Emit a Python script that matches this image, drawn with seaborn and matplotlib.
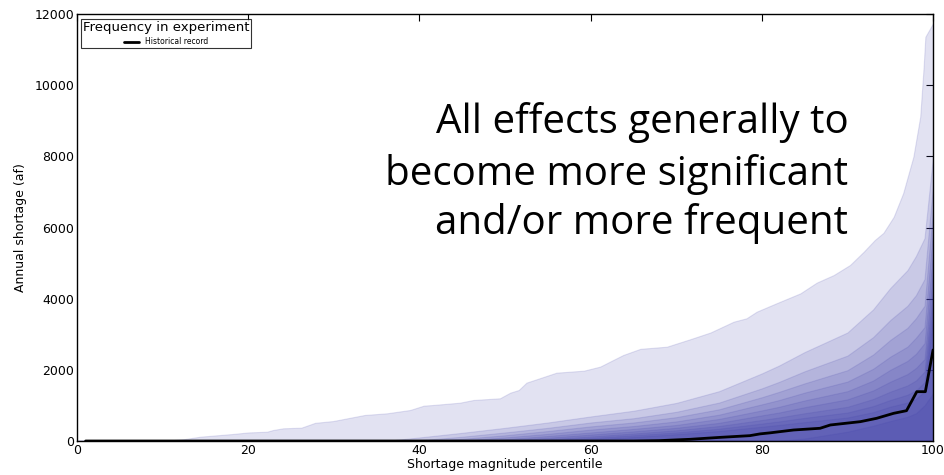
import numpy as np
import pandas as pd
import seaborn as sns
import matplotlib.pyplot as plt

# outer envelope (max over experiments)
env_pct = [0, 10, 12.4, 14.4, 18.2, 20, 22.2, 22.9, 24.1, 26.2, 27.8, 29.9, 33.6, 36.2, 38.9,
           40.5, 41.6, 44.7, 46.3, 49.4, 50.6, 51.6, 52.5, 56, 59.2, 61.1, 63.8, 65.8, 68.9,
           71.6, 74, 76.7, 78.2, 79.4, 81.7, 84.5, 86.4, 88.4, 90.3, 91.9, 93.2, 94.2, 95.4,
           96.5, 97.7, 98.5, 98.9, 99.1, 100]
env = [0, 0, 47, 121, 197, 240, 261, 309, 357, 374, 510, 560, 731, 778, 871,
       993, 1012, 1076, 1152, 1200, 1358, 1433, 1640, 1920, 1976, 2090, 2417, 2590, 2650,
       2858, 3050, 3353, 3448, 3635, 3870, 4150, 4450, 4665, 4947, 5320, 5650, 5850, 6300,
       6960, 7990, 9115, 10520, 11360, 11740]

# inner frequency levels
inner_pct = [0, 36, 40, 45, 50, 55, 60, 65, 70, 75, 80, 82, 85, 90, 93, 95, 97, 98, 99, 100]
c1 = [0, 0, 100, 230, 370, 520, 690, 850, 1070, 1400, 1900, 2120, 2500, 3050, 3700, 4300, 4800, 5200, 5700, 8000]
c2 = [0, 0, 20, 120, 240, 370, 520, 640, 820, 1080, 1480, 1660, 1960, 2400, 2920, 3400, 3800, 4100, 4550, 7200]
c3 = [0, 0, 0, 60, 160, 280, 410, 520, 670, 890, 1230, 1380, 1620, 1990, 2430, 2840, 3180, 3450, 3800, 6500]
c4 = [0, 0, 0, 15, 100, 200, 320, 420, 550, 740, 1030, 1150, 1360, 1670, 2030, 2370, 2650, 2900, 3200, 5900]
c5 = [0, 0, 0, 0, 50, 140, 240, 340, 450, 620, 860, 960, 1140, 1400, 1700, 2000, 2250, 2450, 2750, 5300]
c6 = [0, 0, 0, 0, 15, 90, 180, 270, 370, 510, 720, 800, 950, 1170, 1420, 1667, 1880, 2050, 2300, 4800]
c7 = [0, 0, 0, 0, 0, 50, 125, 210, 300, 420, 590, 660, 780, 960, 1180, 1386, 1560, 1700, 1950, 4300]
c8 = [0, 0, 0, 0, 0, 20, 80, 160, 240, 345, 490, 550, 650, 800, 980, 1152, 1300, 1420, 1650, 3900]
c9 = [0, 0, 0, 0, 0, 0, 40, 110, 190, 280, 400, 450, 530, 660, 810, 964, 1080, 1180, 1400, 3500]
c10 = [0, 0, 0, 0, 0, 0, 0, 0, 0, 0, 0, 10, 70, 261, 430, 560, 680, 778, 1000, 1340]

# historical record
hist_pct = [1, 65, 68, 71.6, 75, 78.6, 79.8, 81, 83.7, 86.8, 88, 91.5, 93.4, 95.4, 96.9, 98.1, 99.1, 100]
hist = [0, 0, 10, 47, 100, 150, 200, 230, 309, 357, 450, 543, 637, 778, 852, 1386, 1386, 2558]

note_lines = ["All effects generally to", "become more significant", "and/or more frequent"]

sns.set_style("white", {"xtick.direction": "in", "ytick.direction": "in",
                        "axes.edgecolor": "black", "text.color": "black",
                        "axes.labelcolor": "black"})

fig = plt.figure(figsize=(9.44, 4.75), dpi=100)
ax = fig.add_axes([0.0816, 0.0716, 0.9068, 0.8989])

band_color = "#3e3ea8"
ax.fill_between(env_pct, 0, env, color=band_color, alpha=0.15, lw=0.8)
for c in [c1, c2, c3, c4, c5, c6, c7, c8, c9, c10]:
    ax.fill_between(inner_pct, 0, c, color=band_color, alpha=0.15, lw=0.8)

hist_df = pd.DataFrame({"pct": hist_pct, "shortage": hist})
sns.lineplot(data=hist_df, x="pct", y="shortage", color="black", lw=2,
             label="Historical record", ax=ax)

ax.set_xlim(0, 100)
ax.set_ylim(0, 12000)
ax.set_xticks(np.arange(0, 101, 20))
ax.set_yticks(np.arange(0, 12001, 2000))
ax.tick_params(axis="both", which="both", direction="in", length=5, width=0.8,
               top=True, right=True, labelsize=9, colors="black", pad=2)
ax.set_xlabel("Shortage magnitude percentile", fontsize=9, labelpad=1, color="black")
ax.set_ylabel("Annual shortage (af)", fontsize=9, labelpad=5, color="black")
for s in ax.spines.values():
    s.set_visible(True)
    s.set_linewidth(1)
    s.set_color("black")

leg = ax.legend(loc="upper left", bbox_to_anchor=(0.005, 0.988), title="Frequency in experiment",
                fontsize=5.5, title_fontsize=9.5, frameon=True, fancybox=False,
                edgecolor="black", handlelength=2.0, borderpad=0.2, borderaxespad=0.0)
leg.get_frame().set_linewidth(0.8)
leg.get_title().set_color("black")

# big note, three baselines
for txt, yb in zip(note_lines, [0.721, 0.600, 0.485]):
    ax.text(0.901, yb, txt, transform=ax.transAxes, ha="right", va="baseline",
            fontsize=29, family="Open Sans", fontweight="normal", color="black")

fig.savefig("out.png", dpi=100)
